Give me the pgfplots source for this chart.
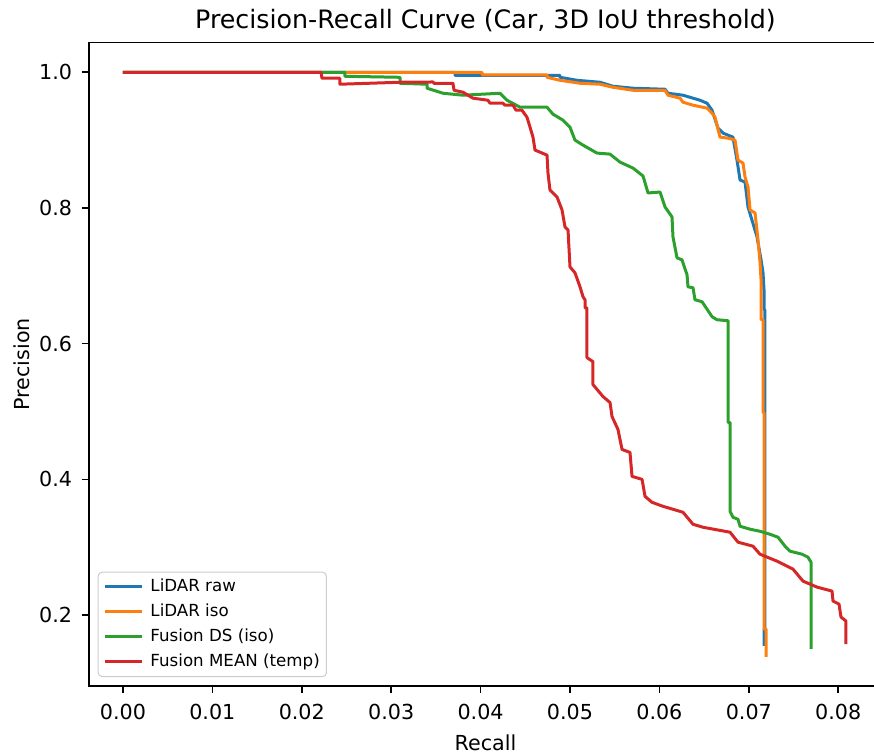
\documentclass[border=0pt]{standalone}
\usepackage{fontspec}
\setmainfont{DejaVu Sans}
\usepackage{pgfplots}
\pgfplotsset{compat=1.18}

\definecolor{tabblue}{HTML}{1F77B4}
\definecolor{taborange}{HTML}{FF7F0E}
\definecolor{tabgreen}{HTML}{2CA02C}
\definecolor{tabred}{HTML}{D62728}

\begin{document}
\begin{tikzpicture}
\begin{axis}[
    scale only axis,
    width=594.75pt, height=482.25pt,
    xmin=-0.0038, xmax=0.0849,
    ymin=0.0958, ymax=1.0436,
    axis line style={line width=1.2pt},
    tick align=outside,
    xtick pos=bottom, ytick pos=left,
    major tick length=5.25pt,
    tick style={line width=1.2pt, black},
    xtick={0,0.01,0.02,0.03,0.04,0.05,0.06,0.07,0.08},
    ytick={0.2,0.4,0.6,0.8,1.0},
    scaled x ticks=false, scaled y ticks=false,
    /pgf/number format/assume math mode=true,
    xticklabel style={/pgf/number format/.cd, fixed, fixed zerofill, precision=2, /tikz/.cd,
        font=\fontsize{15.5}{18}\selectfont, anchor=base, inner sep=0pt, yshift=-19.75pt},
    yticklabel style={/pgf/number format/.cd, fixed, fixed zerofill, precision=1, /tikz/.cd,
        font=\fontsize{15.5}{18}\selectfont, anchor=east, inner sep=0pt, xshift=-7.25pt},
    title={Precision-Recall Curve (Car, 3D IoU threshold)},
    every axis title shift=0pt,
    title style={font=\fontsize{19}{22}\selectfont, at={(axis description cs:0.5,1.0224)}, anchor=base, inner sep=0pt},
    xlabel={Recall},
    xlabel style={font=\fontsize{15.5}{18}\selectfont, at={(axis description cs:0.5,-0.1)}, anchor=base, inner sep=0pt},
    ylabel={Precision},
    ylabel style={font=\fontsize{15.5}{18}\selectfont, at={(axis description cs:-0.0744,0.5)}, anchor=base, inner sep=0pt},
    legend cell align=left,
    legend image code/.code={\draw[#1, line width=2.25pt] (0pt,0pt) -- (27.75pt,0pt); \path (32pt,0pt);},
    legend style={at={(axis description cs:0,0)}, anchor=south west, xshift=6.5pt, yshift=6.5pt,
        draw=black!20, line width=0.75pt, rounded corners=3pt, fill=white, fill opacity=0.8, text opacity=1,
        font=\fontsize{12.5}{15}\selectfont, row sep=4.75pt, inner xsep=4pt, inner ysep=4pt,
        nodes={inner sep=1pt, text height=9.4pt, text depth=2.6pt}},
    every axis plot/.append style={line width=2.25pt, line join=round},
]
\coordinate (bbll) at (axis description cs:-0.1122,-0.1062);
\coordinate (bbur) at (axis description cs:0.9899,1.0664);

\addplot[tabblue] coordinates {
(0,1.0) (0.03714,1.0) (0.03714,0.9956) (0.04888,0.9956) (0.04888,0.9926)
(0.05078,0.9882) (0.05336,0.9853) (0.05481,0.9794) (0.05705,0.9765) (0.06063,0.9750)
(0.06096,0.9691) (0.06264,0.9662) (0.06454,0.9588) (0.06533,0.9544) (0.06589,0.9441)
(0.06656,0.9176) (0.06712,0.9103) (0.06823,0.9044) (0.06868,0.8706) (0.06902,0.8412)
(0.06958,0.8382) (0.06991,0.8015) (0.07092,0.7574) (0.07137,0.7235) (0.07159,0.7044)
(0.07170,0.6794) (0.07170,0.6500) (0.07181,0.6500) (0.07181,0.1794) (0.07170,0.1794)
(0.07170,0.1544)
};
\addlegendentry{LiDAR raw}

\addplot[taborange] coordinates {
(0,1.0) (0.04016,1.0) (0.04016,0.9963) (0.04743,0.9963) (0.04743,0.9926)
(0.04888,0.9882) (0.05112,0.9838) (0.05336,0.9824) (0.05481,0.9779) (0.05705,0.9735)
(0.06063,0.9735) (0.06096,0.9662) (0.06231,0.9618) (0.06264,0.9559) (0.06376,0.9515)
(0.06533,0.9471) (0.06589,0.9397) (0.06622,0.9338) (0.06678,0.9044) (0.06768,0.9029)
(0.06846,0.9000) (0.06879,0.8706) (0.06935,0.8662) (0.06958,0.8456) (0.06991,0.8309)
(0.07014,0.7971) (0.07070,0.7926) (0.07103,0.7529) (0.07125,0.7206) (0.07137,0.6941)
(0.07137,0.6353) (0.07159,0.6353) (0.07159,0.4985) (0.07170,0.4985) (0.07170,0.1794)
(0.07193,0.1794) (0.07193,0.1382)
};
\addlegendentry{LiDAR iso}

\addplot[tabgreen] coordinates {
(0,1.0) (0.02483,1.0) (0.02483,0.9941) (0.03099,0.9926) (0.03099,0.9838)
(0.03401,0.9824) (0.03401,0.9765) (0.03580,0.9691) (0.03803,0.9662) (0.04217,0.9691)
(0.04295,0.9588) (0.04441,0.9485) (0.04743,0.9485) (0.04810,0.9382) (0.04922,0.9294)
(0.05000,0.9191) (0.05056,0.9000) (0.05146,0.8926) (0.05302,0.8809) (0.05448,0.8794)
(0.05559,0.8676) (0.05705,0.8588) (0.05817,0.8471) (0.05873,0.8221) (0.06007,0.8235)
(0.06063,0.8015) (0.06141,0.7868) (0.06152,0.7574) (0.06197,0.7265) (0.06253,0.7235)
(0.06309,0.7015) (0.06320,0.6838) (0.06376,0.6824) (0.06398,0.6647) (0.06477,0.6618)
(0.06589,0.6397) (0.06644,0.6353) (0.06768,0.6338) (0.06768,0.4838) (0.06790,0.4838)
(0.06790,0.3529) (0.06823,0.3441) (0.06879,0.3412) (0.06902,0.3309) (0.07014,0.3265)
(0.07125,0.3235) (0.07237,0.3191) (0.07327,0.3147) (0.07405,0.3015) (0.07461,0.2941)
(0.07595,0.2897) (0.07662,0.2853) (0.07696,0.2779) (0.07696,0.1500)
};
\addlegendentry{Fusion DS (iso)}

\addplot[tabred] coordinates {
(0,1.0) (0.02215,1.0) (0.02226,0.9912) (0.02427,0.9912) (0.02427,0.9824)
(0.03099,0.9853) (0.03468,0.9857) (0.03479,0.9838) (0.03691,0.9838) (0.03703,0.9735)
(0.03803,0.9706) (0.03915,0.9618) (0.04083,0.9588) (0.04105,0.9544) (0.04251,0.9544)
(0.04273,0.9515) (0.04363,0.9515) (0.04396,0.9441) (0.04463,0.9441) (0.04519,0.9338)
(0.04553,0.9191) (0.04586,0.9044) (0.04609,0.8853) (0.04743,0.8779) (0.04754,0.8515)
(0.04776,0.8265) (0.04855,0.8162) (0.04911,0.7971) (0.04944,0.7721) (0.04978,0.7676)
(0.05000,0.7132) (0.05056,0.7044) (0.05112,0.6838) (0.05146,0.6691) (0.05168,0.6647)
(0.05168,0.6529) (0.05190,0.6529) (0.05190,0.5794) (0.05257,0.5735) (0.05257,0.5397)
(0.05369,0.5221) (0.05448,0.5132) (0.05470,0.4926) (0.05537,0.4735) (0.05582,0.4441)
(0.05671,0.4397) (0.05694,0.4044) (0.05806,0.4000) (0.05839,0.3750) (0.05917,0.3662)
(0.06040,0.3603) (0.06264,0.3515) (0.06376,0.3338) (0.06488,0.3294) (0.06790,0.3221)
(0.06879,0.3074) (0.07047,0.3015) (0.07125,0.2897) (0.07316,0.2794) (0.07495,0.2676)
(0.07606,0.2500) (0.07763,0.2412) (0.07931,0.2353) (0.07942,0.2206) (0.08009,0.2162)
(0.08031,0.1971) (0.08087,0.1912) (0.08087,0.1570)
};
\addlegendentry{Fusion MEAN (temp)}
\end{axis}
\pgfresetboundingbox
\path[use as bounding box] (bbll) rectangle (bbur);
\end{tikzpicture}
\end{document}
